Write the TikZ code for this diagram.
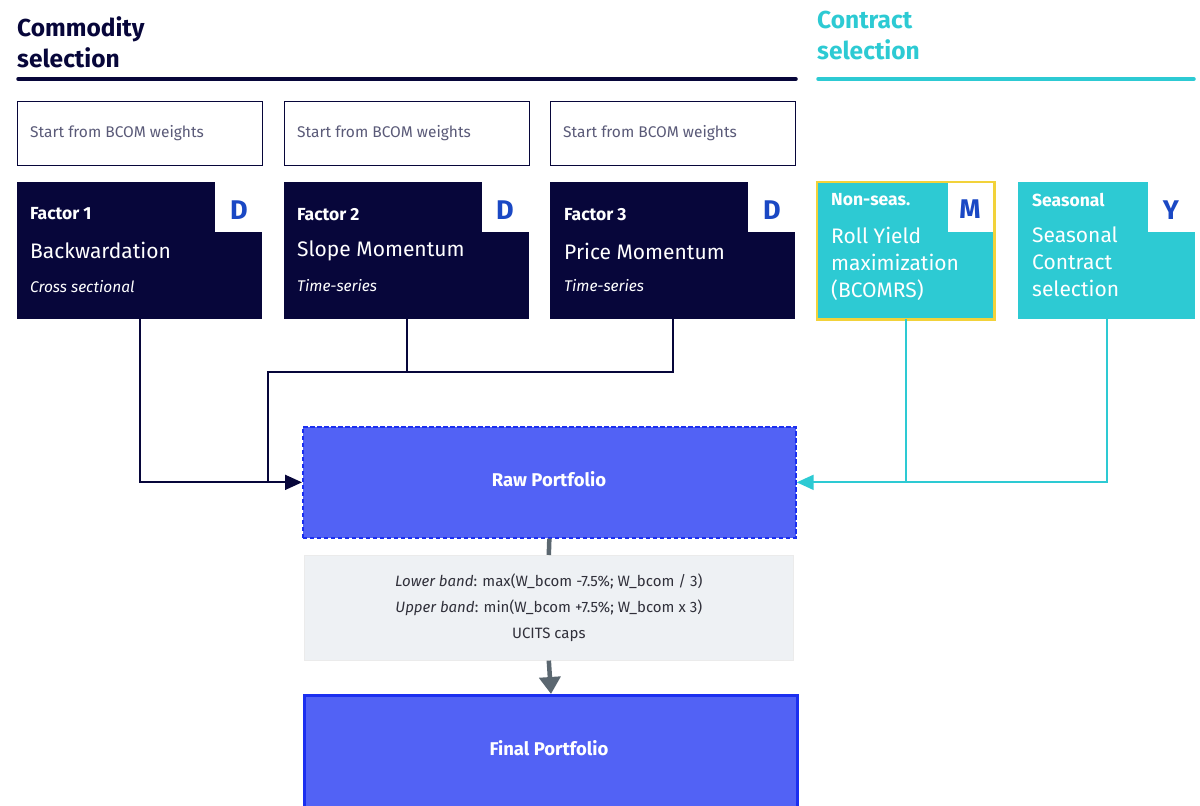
\documentclass[tikz,border=0pt]{standalone}
\usepackage{fontspec}
\setmainfont{Fira Sans}
\usetikzlibrary{arrows.meta}
\definecolor{navy}{HTML}{07063A}
\definecolor{cyanc}{HTML}{2DCAD3}
\definecolor{dblue}{HTML}{1A48C4}
\definecolor{rawblue}{HTML}{5262F5}
\definecolor{rawedge}{HTML}{1B2FF0}
\definecolor{greybox}{HTML}{EEF1F4}
\definecolor{greyline}{HTML}{5B6770}
\definecolor{yell}{HTML}{F2D23A}
\definecolor{txtgrey}{HTML}{5A5A78}
\definecolor{darktxt}{HTML}{30303A}
\begin{document}
\begin{tikzpicture}[x=1pt,y=-1pt,
  title/.style={font=\bfseries\fontsize{24.5}{31}\selectfont, align=left, anchor=north west, inner sep=0pt},
  startbox/.style={draw=navy, line width=1.4pt, fill=white, anchor=north west, minimum width=245pt, minimum height=64pt, inner sep=0pt},
  starttxt/.style={font=\fontsize{15.5}{17}\selectfont, text=txtgrey, anchor=west, inner sep=0pt},
  factorbox/.style={fill=navy, anchor=north west, minimum width=245pt, minimum height=137pt, inner sep=0pt},
  contrbox/.style={fill=cyanc, anchor=north west, minimum width=177pt, minimum height=137pt, inner sep=0pt},
  notch/.style={fill=white, anchor=north east, minimum width=47pt, minimum height=50pt, inner sep=0pt},
  letter/.style={font=\bfseries\fontsize{27}{28}\selectfont, text=dblue, inner sep=0pt},
  ftitle/.style={font=\bfseries\fontsize{17.5}{18}\selectfont, text=white, anchor=west, inner sep=0pt},
  fname/.style={font=\fontsize{21}{27}\selectfont, text=white, anchor=west, inner sep=0pt},
  ctext/.style={font=\fontsize{21}{27}\selectfont, text=white, anchor=north west, align=left, inner sep=0pt},
  fsub/.style={font=\itshape\fontsize{15.5}{17}\selectfont, text=white, anchor=west, inner sep=0pt},
  navyline/.style={draw=navy, line width=1.8pt},
  cyanline/.style={draw=cyanc, line width=2pt},
  portfolio/.style={fill=rawblue, minimum width=493pt, anchor=north west, inner sep=0pt}
]
\useasboundingbox (0,0) rectangle (1200,806);

% headings
\node[title, text=navy] (h1) at (17,16) {Commodity\\selection};
\node[title, text=cyanc] (h2) at (817,11) {Contract\\selection};
\draw[navy, line width=3.5pt, line cap=round] (18,79) -- (796,79);
\draw[cyanc, line width=3.5pt, line cap=round] (818,79) -- (1194,79);

% start boxes
\node[startbox] (s1) at (17,101) {};
\node[startbox] (s2) at (284,101) {};
\node[startbox] (s3) at (550,101) {};
\node[starttxt] (s1t) at (30,133) {Start from BCOM weights};
\node[starttxt] (s2t) at (297,133) {Start from BCOM weights};
\node[starttxt] (s3t) at (563,133) {Start from BCOM weights};

% factor boxes
\node[factorbox] (f1) at (17,182) {};
\node[factorbox] (f2) at (284,182) {};
\node[factorbox] (f3) at (550,182) {};
\node[notch] (n1) at (262,182) {};
\node[notch] (n2) at (529,182) {};
\node[notch] (n3) at (795,182) {};
\node[letter] (d1) at (239,210) {D};
\node[letter] (d2) at (505,210) {D};
\node[letter] (d3) at (772,210) {D};

\node[ftitle] (f1a) at (30,214) {Factor 1};
\node[fname] (f1b) at (30,250) {Backwardation};
\node[fsub] (f1c) at (30,287) {Cross sectional};
\node[ftitle] (f2a) at (297,215) {Factor 2};
\node[fname] (f2b) at (297,251) {Slope Momentum};
\node[fsub] (f2c) at (297,286) {Time-series};
\node[ftitle] (f3a) at (564,215) {Factor 3};
\node[fname] (f3b) at (564,251) {Price Momentum};
\node[fsub] (f3c) at (564,286) {Time-series};

% contract boxes
\node[contrbox] (c1) at (817,182) {};
\node[notch, minimum width=45pt, minimum height=49pt] (cn1) at (993,183) {};
\draw[yell, line width=2.8pt] (c1.north west) rectangle (c1.south east);
\node[contrbox] (c2) at (1018,182) {};
\node[notch] (cn2) at (1195,182) {};
\node[letter] (m1) at (970,209) {M};
\node[letter] (y1) at (1171,210) {Y};
\node[ftitle] (c1a) at (831,200) {Non-seas.};
\node[ctext] (c1b) at (831,227) {Roll Yield\\maximization\\(BCOMRS)};
\node[ftitle] (c2a) at (1032,200) {Seasonal};
\node[ctext] (c2b) at (1032,227) {Seasonal\\Contract\\selection};

% raw portfolio
\node[portfolio, minimum height=111pt, draw=rawedge, dash pattern=on 4.5pt off 2.5pt, line width=1.7pt] (raw) at (302,426) {};
\node[text=white, font=\bfseries\fontsize{18.5}{20}\selectfont, inner sep=0pt] (rawt) at (549,479) {Raw Portfolio};

% grey box
\node[fill=greybox, draw=white!92!black, line width=0.6pt, anchor=north west, minimum width=489pt, minimum height=105pt, inner sep=0pt] (g) at (304,555) {};
\node[font=\fontsize{15}{26}\selectfont, text=darktxt, align=center, inner sep=0pt] (gt) at (g.center) {\textit{Lower band}: max(W\_bcom -7.5\%; W\_bcom / 3)\\\textit{Upper band}: min(W\_bcom +7.5\%; W\_bcom x 3)\\UCITS caps};

% final portfolio
\node[portfolio, minimum height=112pt, draw=rawedge, line width=3pt] (fin) at (303,694) {};
\node[text=white, font=\bfseries\fontsize{18.5}{20}\selectfont, inner sep=0pt] (fint) at (549,748) {Final Portfolio};

% connectors
\coordinate (j) at (268,372);
\draw[navyline, -{Triangle[length=17pt,width=15pt]}] (f1.south) -- (f1.south |- raw.west) -- (raw.west);
\draw[navyline] (f2.south) -- (f2.south |- j) -- (j) -- (j |- raw.west);
\draw[navyline] (f3.south) -- (f3.south |- j) -- (f2.south |- j);

\draw[cyanline, -{Triangle[length=17pt,width=15pt]}] (c2.south) -- (c2.south |- raw.east) -- (raw.east);
\draw[cyanline] (c1.south) -- (c1.south |- raw.east);

\draw[greyline, line width=4.5pt] (raw.south) -- (g.north);
\draw[greyline, line width=4.5pt, -{Triangle[length=17pt,width=21pt]}] (g.south) -- (fin.north);
\end{tikzpicture}
\end{document}
